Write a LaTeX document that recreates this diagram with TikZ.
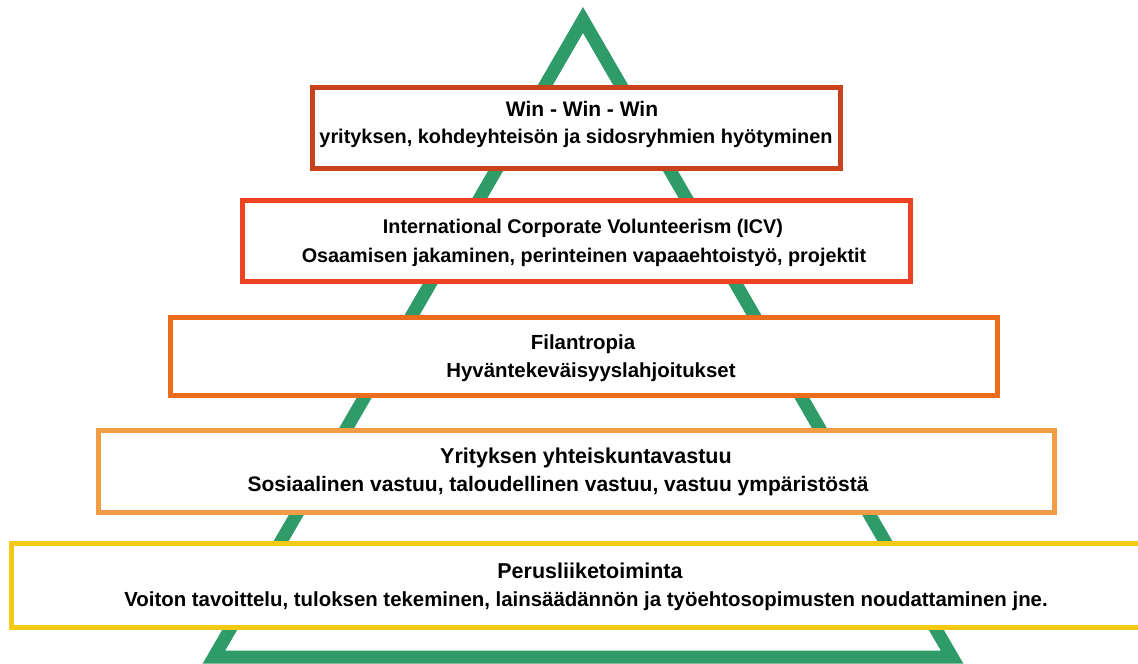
\documentclass[tikz,border=0pt]{standalone}
\usepackage{fontspec}
\setmainfont{Liberation Sans}
\definecolor{tgreen}{HTML}{2F9B68}
\definecolor{c1}{HTML}{C8421C}
\definecolor{c2}{HTML}{EE4322}
\definecolor{c3}{HTML}{EC6C1E}
\definecolor{c4}{HTML}{F29C45}
\definecolor{c5}{HTML}{F6C915}
\begin{document}
\begin{tikzpicture}[x=1pt,y=-1pt,
  level/.style={draw=#1,line width=5pt,fill=white},
  txt/.style={anchor=base,inner sep=0pt,font=\fontsize{#1}{24}\selectfont\bfseries},
  txt/.default=20.4]
\useasboundingbox (0,0) rectangle (1138,664);
\clip (0,0) rectangle (1138,664);
% pyramid outline
\coordinate (apex) at (583,20);
\coordinate (bl) at (214,657);
\coordinate (br) at (952,657);
\draw[tgreen,line width=13pt,line join=miter] (apex) -- (bl) -- (br) -- cycle;
% levels
\path[level=c1] (312.5,87.5) rectangle (840.5,168.5);
\path[level=c2] (242.5,200.5) rectangle (910.5,281.5);
\path[level=c3] (170.5,317.5) rectangle (997.5,395.5);
\path[level=c4] (98.5,430.5) rectangle (1054.5,512.5);
\path[level=c5] (11.5,543.5) rectangle (1145,627.5);
% texts
\node[txt=21] (t1a) at (582,116) {Win - Win - Win};
\node[txt=19.9] (t1b) at (576,143) {yrityksen, kohdeyhteisön ja sidosryhmien hyötyminen};
\node[txt=19.8] (t2a) at (583,233) {International Corporate Volunteerism (ICV)};
\node[txt=19.8] (t2b) at (584,262) {Osaamisen jakaminen, perinteinen vapaaehtoistyö, projektit};
\node[txt] (t3a) at (583,349) {Filantropia};
\node[txt] (t3b) at (591,377) {Hyväntekeväisyyslahjoitukset};
\node[txt=21.5] (t4a) at (586,463) {Yrityksen yhteiskuntavastuu};
\node[txt=21] (t4b) at (558,491) {Sosiaalinen vastuu, taloudellinen vastuu, vastuu ympäristöstä};
\node[txt=21.5] (t5a) at (590,578) {Perusliiketoiminta};
\node[txt] (t5b) at (586,606) {Voiton tavoittelu, tuloksen tekeminen, lainsäädännön ja työehtosopimusten noudattaminen jne.};
\end{tikzpicture}
\end{document}
